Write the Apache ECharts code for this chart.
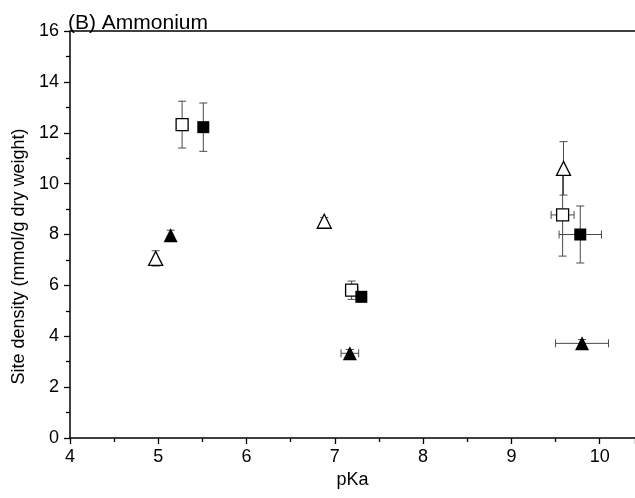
<!DOCTYPE html>
<html>
<head>
<meta charset="utf-8">
<script src="https://cdn.jsdelivr.net/npm/echarts@6/dist/echarts.min.js"></script>
<style>
  html, body { margin:0; padding:0; background:#fff; }
  #chart { width:635px; height:498px; }
</style>
</head>
<body>
<div id="chart"></div>
<script>
// rows: [pKa, site density, x error, y error]
const openSquares    = [[5.27, 12.32, 0, 0.92], [7.19, 5.81, 0.07, 0.36], [9.58, 8.77, 0.13, 1.62]];
const filledSquares  = [[5.51, 12.22, 0, 0.95], [7.30, 5.55, 0, 0.10], [9.78, 8.00, 0.24, 1.12]];
const openTriangles  = [[4.97, 7.06, 0, 0.30], [6.88, 8.52, 0, 0.15], [9.59, 10.60, 0, 1.05]];
const filledTriangles= [[5.14, 7.97, 0, 0.20], [7.17, 3.33, 0.10, 0.15], [9.80, 3.72, 0.30, 0.15]];

const xRange = [4, 10.4];
const yRange = [0, 16];

const FONT = 'Liberation Sans, Arial, sans-serif';
const chart = echarts.init(document.getElementById('chart'));

function seg(x1, y1, x2, y2){
  return { type:'line', shape:{ x1, y1, x2, y2 }, style:{ stroke:'#4a4a4a', lineWidth:1 } };
}
function errRender(params, api){
  const x = api.value(0), y = api.value(1), ex = api.value(2), ey = api.value(3);
  const cap = 4, kids = [];
  if (ey > 0){
    const t = api.coord([x, y + ey]), b = api.coord([x, y - ey]);
    kids.push(seg(t[0], t[1], b[0], b[1]));
    kids.push(seg(t[0]-cap, t[1], t[0]+cap, t[1]));
    kids.push(seg(b[0]-cap, b[1], b[0]+cap, b[1]));
  }
  if (ex > 0){
    const l = api.coord([x - ex, y]), r = api.coord([x + ex, y]);
    kids.push(seg(l[0], l[1], r[0], r[1]));
    kids.push(seg(l[0], l[1]-cap, l[0], l[1]+cap));
    kids.push(seg(r[0], r[1]-cap, r[0], r[1]+cap));
  }
  return { type:'group', children:kids };
}
function errSeries(data){
  return { type:'custom', renderItem:errRender, data, z:1, silent:true, clip:false };
}
function pts(data, symbol, size, filled){
  return {
    type:'scatter', data: data.map(d => [d[0], d[1]]), symbol, symbolSize:size, z:3,
    itemStyle:{ color: filled ? '#000' : '#fff', borderColor:'#000', borderWidth: filled ? 0 : 1.3, opacity:1 }
  };
}

chart.setOption({
  animation:false,
  title:{ text:'(B) Ammonium', left:63, top:8, textStyle:{ fontFamily:FONT, fontSize:21, fontWeight:'normal', color:'#000' } },
  grid:{ left:70, right:0, top:31, bottom:60 },
  xAxis:[{
    type:'value', min:xRange[0], max:xRange[1], interval:1,
    name:'pKa', nameLocation:'middle', nameGap:33,
    nameTextStyle:{ fontFamily:FONT, fontSize:18, color:'#000' },
    axisLine:{ show:true, lineStyle:{ color:'#000', width:1.5 } },
    axisTick:{ show:true, length:6, lineStyle:{ color:'#000', width:1.3 } },
    minorTick:{ show:true, splitNumber:2, length:4, lineStyle:{ color:'#000', width:1.3 } },
    axisLabel:{ fontFamily:FONT, fontSize:18, color:'#000', margin:10, showMaxLabel:false },
    splitLine:{ show:false }
  },{
    type:'value', position:'top', min:xRange[0], max:xRange[1],
    axisLine:{ show:true, onZero:false, lineStyle:{ color:'#000', width:1.5 } },
    axisTick:{ show:false }, axisLabel:{ show:false }, splitLine:{ show:false }
  }],
  yAxis:{
    type:'value', min:yRange[0], max:yRange[1], interval:2,
    name:'Site density (mmol/g dry weight)', nameLocation:'middle', nameGap:37,
    nameTextStyle:{ fontFamily:FONT, fontSize:18, color:'#000', padding:[0, 44, 0, 0] },
    axisLine:{ show:true, lineStyle:{ color:'#000', width:1.5 } },
    axisTick:{ show:true, length:6, lineStyle:{ color:'#000', width:1.3 } },
    minorTick:{ show:true, splitNumber:2, length:4, lineStyle:{ color:'#000', width:1.3 } },
    axisLabel:{ fontFamily:FONT, fontSize:18, color:'#000', margin:11 },
    splitLine:{ show:false }
  },
  series:[
    errSeries(openSquares), errSeries(filledSquares), errSeries(openTriangles), errSeries(filledTriangles),
    pts(openSquares, 'rect', 12, false),
    pts(filledSquares, 'rect', 12, true),
    pts(openTriangles, 'triangle', 14, false),
    pts(filledTriangles, 'triangle', 14, true)
  ]
});
</script>
</body>
</html>
